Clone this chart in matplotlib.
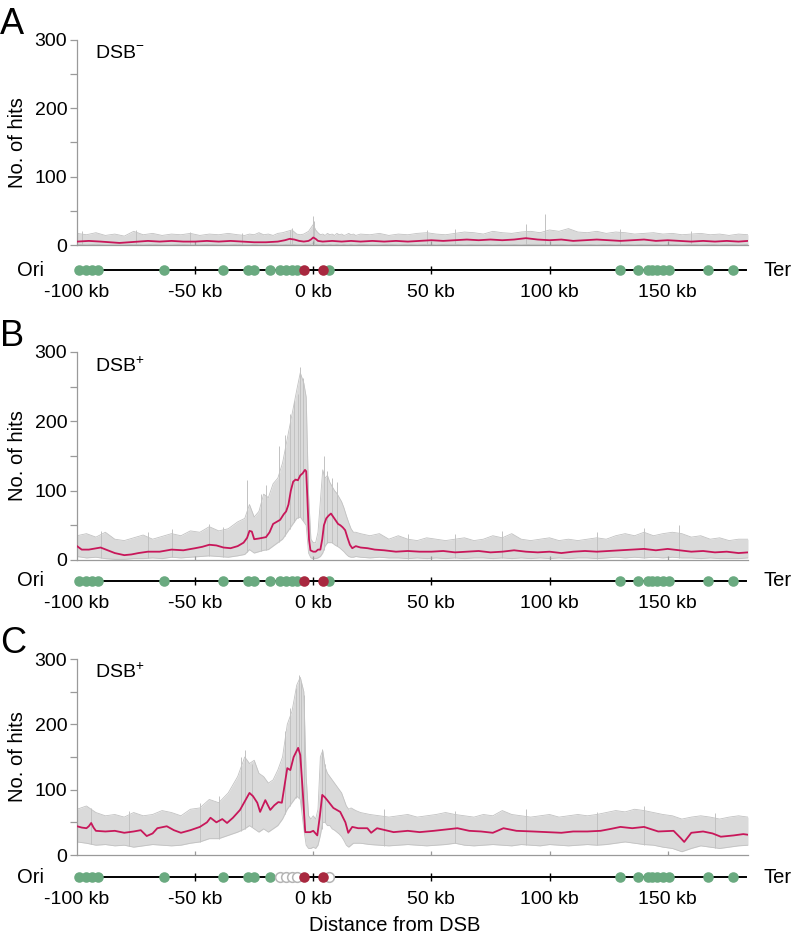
import matplotlib
matplotlib.use('Agg')
import matplotlib.pyplot as plt
import numpy as np
from matplotlib.ticker import FixedLocator

plt.rcParams['font.family'] = ['Liberation Sans', 'DejaVu Sans']
plt.rcParams['mathtext.fontset'] = 'custom'
plt.rcParams['mathtext.rm'] = 'Liberation Sans'

W, H = 802, 938

# ---------------- data ----------------
x_env = [-100, -96, -92, -88, -84, -80, -76, -72, -68, -64, -60, -56, -52, -48, -44, -40, -36, -32,
         -29, -27, -25, -23, -21, -19, -17, -15, -13, -11, -9, -7,
         -5.5, -4, -3, -2, -1, 0, 1, 2, 3, 4, 5, 6, 7, 8, 9, 10, 11, 12, 13, 14, 15, 16, 17, 18,
         20, 24, 28, 32, 36, 40, 44, 48, 52, 56, 60, 64, 68, 72, 76, 80, 84, 88, 92, 96, 100,
         104, 108, 112, 116, 120, 124, 128, 132, 136, 140, 144, 148, 152, 156, 160, 164, 168,
         172, 176, 180, 184]

upper_A = [17, 15, 18, 14, 16, 13, 20, 15, 17, 14, 16, 15, 17, 14, 16, 15, 17, 15,
           14, 16, 15, 18, 15, 16, 14, 17, 18, 20, 22, 16,
           15, 16, 18, 20, 25, 30, 22, 18, 15, 16, 14, 17, 15, 16, 14, 17, 15, 16, 14, 15, 17, 15, 16, 14,
           16, 15, 17, 14, 16, 15, 17, 18, 16, 15, 17, 19, 18, 16, 20, 18, 17, 19, 20, 18, 22,
           20, 24, 19, 18, 20, 17, 19, 18, 16, 17, 18, 16, 17, 15, 16, 17, 15, 16, 14, 16, 15]
lower_A = [1, 0, 1, 0, 0, 0, 1, 0, 1, 0, 0, 1, 0, 0, 1, 0, 0, 1,
           0, 0, 1, 0, 0, 0, 1, 0, 0, 1, 1, 0,
           0, 0, 1, 1, 1, 2, 1, 0, 0, 1, 0, 0, 1, 0, 0, 1, 0, 0, 1, 0, 0, 1, 0, 0,
           1, 0, 0, 1, 0, 1, 0, 1, 0, 1, 1, 0, 1, 1, 0, 1, 1, 0, 1, 1, 0,
           1, 0, 1, 1, 0, 1, 0, 1, 0, 1, 1, 0, 1, 0, 1, 0, 1, 0, 1, 0, 1]

upper_B = [35, 38, 33, 40, 30, 28, 32, 36, 30, 34, 38, 35, 42, 40, 48, 42, 45, 55,
           60, 80, 62, 70, 95, 90, 110, 118, 140, 175, 210, 245,
           270, 255, 235, 95, 30, 25, 25, 40, 85, 130, 118, 122, 112, 106, 100, 96, 90, 84, 75, 64, 54, 45, 40, 40,
           38, 35, 38, 30, 35, 30, 28, 32, 30, 28, 30, 32, 28, 30, 35, 32, 38, 30, 28, 30, 32,
           28, 30, 28, 30, 32, 30, 35, 38, 35, 40, 35, 38, 40, 38, 33, 35, 30, 32, 28, 30, 30]
lower_B = [5, 3, 4, 2, 1, 1, 2, 2, 3, 2, 4, 3, 4, 5, 6, 5, 4, 6,
           8, 15, 10, 12, 14, 15, 20, 25, 30, 40, 50, 60,
           62, 55, 50, 10, 3, 2, 2, 3, 5, 10, 20, 25, 25, 25, 22, 20, 18, 15, 12, 8, 5, 4, 4, 5,
           4, 3, 4, 3, 3, 2, 3, 2, 3, 2, 3, 2, 3, 3, 2, 3, 2, 3, 2, 3, 2,
           3, 2, 3, 3, 2, 3, 4, 3, 4, 3, 4, 3, 4, 3, 3, 2, 3, 2, 2, 2, 3]

upper_C = [70, 75, 65, 60, 62, 58, 65, 60, 62, 68, 65, 60, 70, 72, 85, 80, 95, 120,
           150, 140, 145, 125, 120, 110, 115, 130, 150, 200, 220, 260,
           272, 250, 120, 60, 55, 60, 55, 70, 150, 160, 135, 125, 120, 115, 110, 105, 100, 95, 85, 75, 70, 72, 70, 68,
           65, 62, 60, 58, 60, 62, 58, 60, 62, 65, 62, 60, 58, 62, 60, 68, 62, 60, 58, 60, 62,
           58, 60, 62, 60, 62, 65, 68, 66, 70, 68, 65, 62, 60, 55, 58, 60, 58, 55, 58, 60, 58]
lower_C = [20, 18, 15, 16, 14, 15, 12, 14, 16, 15, 14, 15, 18, 20, 25, 25, 30, 35,
           40, 45, 40, 35, 40, 35, 40, 45, 55, 70, 80, 90,
           85, 40, 15, 10, 10, 12, 10, 15, 30, 50, 50, 45, 45, 40, 38, 35, 32, 28, 22, 15, 12, 15, 18, 18,
           18, 16, 15, 14, 15, 16, 15, 14, 15, 16, 18, 15, 14, 15, 16, 15, 14, 16, 15, 14, 16,
           15, 14, 15, 16, 15, 16, 18, 20, 18, 16, 15, 12, 10, 5, 10, 14, 12, 10, 12, 14, 15]

# smoothed (moving average) lines
smooth_x_A = [-100, -95, -90, -86, -82, -78, -74, -70, -65, -60, -55, -50, -45, -40, -35, -30, -25, -20,
              -15, -12, -10, -8, -6, -4, -2, -1, 0, 1, 2, 4, 8, 12, 16, 20, 25, 30, 35, 40, 45, 50,
              55, 60, 65, 70, 75, 80, 85, 90, 95, 100, 105, 110, 115, 120, 125, 130, 135, 140, 145,
              150, 155, 160, 165, 170, 175, 180, 184]
smooth_y_A = [5, 6, 5, 4, 3, 4, 5, 6, 5, 6, 5, 5, 6, 5, 6, 5, 4, 4,
              5, 7, 9, 8, 6, 5, 6, 8, 11, 9, 6, 5, 6, 5, 6, 5, 6, 5, 6, 5, 6, 7,
              6, 7, 8, 7, 8, 7, 8, 10, 8, 7, 8, 6, 7, 8, 7, 6, 7, 8, 6,
              7, 6, 5, 6, 5, 6, 5, 6]

smooth_x_B = [-100, -98, -95, -90, -87, -84, -80, -77, -74, -70, -65, -60, -55, -50, -47, -44, -41, -38,
              -35, -32, -29.5, -28, -27, -26, -25, -23, -20, -18.5, -17, -15.5, -14, -12.5, -11.5,
              -10.5, -9.5, -8.5, -7.5, -6.5, -5.5, -4.5, -3.5, -3.0, -2.5, -1.8, -1.2, 0, 1, 2, 3,
              3.8, 4.5, 5.5, 6.5, 7.5, 8.5, 9.5, 10.5, 11.5, 12.5, 13.5, 14.5, 15.5, 16.5, 18, 20,
              23, 26, 30, 35, 40, 45, 50, 55, 60, 65, 70, 75, 80, 85, 90, 95, 100, 105, 110, 115,
              120, 125, 130, 135, 140, 145, 150, 155, 160, 165, 170, 175, 180, 184]
smooth_y_B = [20, 15, 15, 18, 14, 10, 7, 8, 10, 12, 12, 15, 14, 17, 19, 22, 21, 18,
              17, 20, 25, 32, 42, 41, 30, 31, 33, 40, 52, 55, 58, 66, 70,
              80, 100, 113, 116, 115, 122, 125, 130, 128, 90, 30, 14, 12, 12, 15, 15,
              30, 50, 60, 64, 67, 62, 57, 52, 50, 47, 43, 32, 22, 17, 20, 18,
              17, 15, 14, 12, 13, 12, 12, 13, 11, 12, 13, 11, 12, 14, 12, 11, 12, 10, 12, 13,
              12, 13, 14, 15, 16, 14, 16, 14, 12, 13, 11, 12, 10, 11]

smooth_x_C = [-100, -98, -96, -95, -94, -93, -92, -88, -84, -80, -76, -73, -70.5, -68, -66, -62, -59,
              -56, -52, -48, -45, -43.5, -41, -38.5, -36.5, -34, -31, -29, -27, -25.5, -23.7, -22.5,
              -20.3, -18.2, -16.5, -14.8, -13.3, -12, -11, -9.7, -8.3, -6.4, -5.5, -4.5, -3.4, -1.3,
              0, 1.7, 2.8, 3.8, 5, 5.9, 8.5, 11.4, 13.6, 14.8, 16.5, 19, 22.9, 24.5, 27, 34, 40, 45,
              51, 56, 61, 66, 71, 76, 80.5, 86, 93, 99, 105, 110, 116, 121.6, 126, 130, 135, 140,
              146, 152.5, 155.5, 157, 160, 165, 169, 172.5, 178, 182, 184]
smooth_y_C = [44, 42, 41, 44, 49, 42, 37, 36, 37, 34, 36, 38, 29, 33, 41, 44, 38,
              34, 38, 43, 50, 57, 50, 55, 49, 57, 69, 82, 95, 90, 80, 66,
              84, 69, 76, 81, 80, 110, 133, 130, 150, 164, 153, 100, 35, 35,
              37, 30, 60, 92, 88, 84, 72, 66, 50, 34, 43, 41, 41, 34, 41, 35, 37, 35,
              37, 39, 41, 37, 36, 34, 41, 37, 36, 35, 34, 36, 36, 37, 40, 43, 41, 43,
              36, 37, 26, 20, 34, 36, 33, 28, 30, 32, 31]

# prominent single-position spikes of the raw counts
spike_x_A = [-98, -75, -52, -30, -10, -9, 0, 0.5, 48, 60, 90, 98, 130, 160]
spike_y_A = [20, 22, 19, 18, 22, 25, 42, 35, 22, 24, 30, 45, 24, 20]
spike_x_B = [-90, -70, -60, -44, -38, -28, -22, -20, -14.5, -12, -10, -8, -6.5, -5.5, -4.5, 4.5, 6, 8, 10,
             40, 60, 80, 120, 140, 155]
spike_y_B = [42, 40, 45, 52, 48, 115, 95, 108, 165, 180, 210, 230, 240, 278, 262, 150, 128, 118, 112,
             38, 38, 42, 40, 46, 50]
spike_x_C = [-94, -78, -48, -40, -30.5, -29, -26, -12, -10, -7.5, -6, -5, -4, 3.5, 5, 30, 60, 90,
             120, 140, 170]
spike_y_C = [72, 68, 80, 90, 150, 160, 140, 190, 225, 255, 275, 265, 245, 162, 140, 70, 68, 70,
             66, 75, 65]

# genome track features (kb from DSB)
green_pos = [-99, -96, -93.5, -91, -63, -38, -27.5, -25, -18.5, -14, -11.5, -9, -6.8, 6.6,
             130, 137.5, 141.5, 143.5, 145.5, 148, 150.5, 167, 177.5]
green_pos_C = [-99, -96, -93.5, -91, -63, -38, -27.5, -25, -18.5,
               130, 137.5, 141.5, 143.5, 145.5, 148, 150.5, 167, 177.5]
open_pos_C = [-14, -11.5, -9, -6.8, 6.8]
red_pos = [-4.0, 4.0]

track_ticks = [-100, -50, 0, 50, 100, 150]
track_labels = ['-100 kb', '-50 kb', '0 kb', '50 kb', '100 kb', '150 kb']
y_ticks = [0, 100, 200, 300]
panel_letters = ['A', 'B', 'C']
dsb_labels = ['DSB$^{-}$', 'DSB$^{+}$', 'DSB$^{+}$']

# ---------------- style ----------------
BAND = '#dadada'
EDGE = '#c2c2c2'
LINE = '#c8175a'
GREEN = '#6aaa80'
DARKRED = '#a8283f'
SPINE = '#9a9a9a'
XMIN, XMAX = -100, 184
FS = 14.5


def frac_rect(x0, top, x1, bottom):
    return [x0 / W, 1 - bottom / H, (x1 - x0) / W, (bottom - top) / H]


fig = plt.figure(figsize=(W / 100, H / 100), dpi=100)

panels = [
    dict(top=40, bottom=245, track=270, up=upper_A, lo=lower_A, sx=smooth_x_A, sy=smooth_y_A,
         kx=spike_x_A, ky=spike_y_A, green=green_pos, openc=[]),
    dict(top=352, bottom=560, track=581, up=upper_B, lo=lower_B, sx=smooth_x_B, sy=smooth_y_B,
         kx=spike_x_B, ky=spike_y_B, green=green_pos, openc=[]),
    dict(top=659, bottom=855, track=877, up=upper_C, lo=lower_C, sx=smooth_x_C, sy=smooth_y_C,
         kx=spike_x_C, ky=spike_y_C, green=green_pos_C, openc=open_pos_C),
]

for i, p in enumerate(panels):
    ax = fig.add_axes(frac_rect(77, p['top'], 748, p['bottom']))
    ax.fill_between(x_env, p['lo'], p['up'], color=BAND, lw=0, zorder=1)
    ax.plot(x_env, p['up'], color=EDGE, lw=0.6, zorder=1.5)
    ax.plot(x_env, p['lo'], color=EDGE, lw=0.6, zorder=1.5)
    base = np.interp(p['kx'], x_env, p['lo'])
    ax.vlines(p['kx'], base, p['ky'], color=EDGE, lw=0.7, zorder=1.5)
    ax.plot(p['sx'], p['sy'], color=LINE, lw=1.3, zorder=3)
    ax.set_xlim(XMIN, XMAX)
    ax.set_ylim(0, 300)
    for s in ['top', 'right']:
        ax.spines[s].set_visible(False)
    for s in ['left', 'bottom']:
        ax.spines[s].set_color(SPINE)
        ax.spines[s].set_linewidth(0.9)
    ax.set_yticks(y_ticks)
    ax.set_yticklabels([str(v) for v in y_ticks])
    ax.yaxis.set_minor_locator(FixedLocator([50, 150, 250]))
    ax.tick_params(axis='y', which='both', direction='out', length=5, width=0.9,
                   color=SPINE, labelsize=14, pad=2)
    ax.set_xticks([-50, 0, 50, 100, 150])
    ax.set_xticklabels([])
    ax.tick_params(axis='x', direction='in', length=3, width=0.9, color=SPINE)
    ax.text(0.027, 0.935, dsb_labels[i], transform=ax.transAxes, fontsize=14,
            va='center', ha='left')
    fig.text(18 / W, 1 - ((p['top'] + p['bottom']) / 2) / H, 'No. of hits', rotation=90,
             fontsize=FS, ha='center', va='center')
    fig.text(0 / W, 1 - (p['top'] - 6) / H, panel_letters[i], fontsize=26,
             ha='left', va='baseline')

    # genome track
    tr = fig.add_axes(frac_rect(77, p['track'] - 12, 748, p['track'] + 12))
    tr.set_xlim(XMIN, XMAX)
    tr.set_ylim(-1, 1)
    for s in ['top', 'right', 'left']:
        tr.spines[s].set_visible(False)
    tr.spines['bottom'].set_position(('data', 0))
    tr.spines['bottom'].set_bounds(-100, 183)
    tr.spines['bottom'].set_linewidth(1.4)
    tr.spines['bottom'].set_color('black')
    tr.set_yticks([])
    tr.set_xticks(track_ticks)
    tr.set_xticklabels(track_labels)
    tr.tick_params(axis='x', direction='inout', length=6, width=1.0, labelsize=14, pad=7)
    tr.patch.set_alpha(0)
    tr.plot(p['green'], [0] * len(p['green']), 'o', ms=7.6, color=GREEN, mec='none',
            zorder=4, clip_on=False)
    if p['openc']:
        tr.plot(p['openc'], [0] * len(p['openc']), 'o', ms=7.0, mfc='white', mec='#b5b5b5',
                mew=1.1, zorder=4, clip_on=False)
    tr.plot(red_pos, [0] * len(red_pos), 'o', ms=7.6, color=DARKRED, mec='none',
            zorder=5, clip_on=False)
    fig.text(31 / W, 1 - p['track'] / H, 'Ori', fontsize=FS, ha='center', va='center')
    fig.text(778 / W, 1 - p['track'] / H, 'Ter', fontsize=FS, ha='center', va='center')

fig.text(395 / W, 1 - 925 / H, 'Distance from DSB', fontsize=FS, ha='center', va='center')

fig.savefig('out.png', dpi=100)
